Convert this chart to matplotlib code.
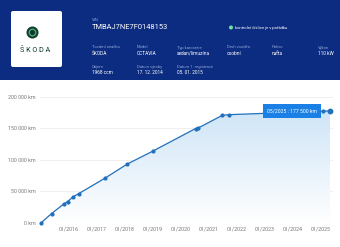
import numpy as np
import pandas as pd
import matplotlib
matplotlib.use("Agg")
import matplotlib.pyplot as plt
import matplotlib.dates as mdates
from matplotlib.patches import Rectangle, FancyBboxPatch, Circle, Polygon

plt.rcParams['font.family'] = ['Roboto', 'DejaVu Sans']

# mileage history
dates = ["2015-01-05", "2015-05-20", "2015-10-30", "2015-12-15", "2016-03-01",
         "2016-05-08", "2017-04-15", "2018-02-01", "2019-01-01", "2020-07-15",
         "2020-08-20", "2021-07-01", "2021-09-25", "2025-02-05", "2025-05-07"]
km = [0, 14500, 30000, 33500, 41500, 46000, 70500, 93000, 113500, 149500,
      150500, 170500, 171500, 177000, 177500]
yticks = [0, 50000, 100000, 150000, 200000]
ytick_labels = ["0 km", "50 000 km", "100 000 km", "150 000 km", "200 000 km"]
xtick_years = list(range(2016, 2026))
tooltip = "05/2025 : 177 500 km"

# header fields: (label, value)
vin_label, vin = "VIN", "TMBAJ7NE7F0148153"
check_text = "kontrolní číslice je v pořádku"
fields_row1 = [("Tovární značka", "ŠKODA"), ("Model", "OCTAVIA"),
               ("Typ karoserie", "sedan/limuzína"), ("Druh vozidla", "osobní"),
               ("Palivo", "nafta"), ("Výkon", "110 kW")]
fields_row2 = [("Objem", "1968 ccm"), ("Datum výroby", "17. 12. 2014"),
               ("Datum 1. registrace", "05. 01. 2015")]

navy = "#0b2c80"
lab_col = "#8ea3d6"
line_col = "#2170bd"

fig = plt.figure(figsize=(3.4, 2.47), dpi=100)
fig.patch.set_facecolor("white")

# background / header drawn in pixel coords
bg = fig.add_axes([0, 0, 1, 1])
bg.set_xlim(0, 340)
bg.set_ylim(247, 0)
bg.axis("off")
bg.add_patch(Rectangle((0, 0), 340, 80, color=navy, lw=0))
bg.add_patch(FancyBboxPatch((11, 11), 51, 56, boxstyle="round,pad=0,rounding_size=2",
                            fc="white", ec="none"))
bg.add_patch(Circle((32.5, 32.5), 6.0, fc="#0e3a2f", ec="none"))
bg.add_patch(Circle((32.5, 32.5), 4.0, fc="#4fa86a", ec="none"))
bg.add_patch(Circle((32.5, 32.5), 2.6, fc="#0e3a2f", ec="none"))
bg.text(35.5, 50, "Š K O D A", ha="center", va="center", fontsize=5.2, color="#0e3a2f")

bg.text(92, 20, vin_label, fontsize=3.0, color=lab_col, va="center")
bg.text(92, 27.5, vin, fontsize=5.4, color="white", va="center")
bg.add_patch(Circle((231, 27.5), 2.0, fc="#6fe3a0", ec="none"))
bg.text(235, 27.5, check_text, fontsize=3.0, color="white", va="center")

xs1 = [92, 137, 177, 227, 272, 318]
for x, (lab, val) in zip(xs1, fields_row1):
    bg.text(x, 47.5, lab, fontsize=3.0, color=lab_col, va="center")
    bg.text(x, 53, val, fontsize=3.4, color="white", va="center")
xs2 = [92, 137, 177]
for x, (lab, val) in zip(xs2, fields_row2):
    bg.text(x, 66.5, lab, fontsize=3.0, color=lab_col, va="center")
    bg.text(x, 72, val, fontsize=3.4, color="white", va="center")

# chart
W, H = 340, 247
ax = fig.add_axes([40 / W, (H - 222.7) / H, (333 - 40) / W, 126 / H])
ax.patch.set_alpha(0)
t = pd.to_datetime(dates)
tn = mdates.date2num(t)
ax.set_xlim(mdates.date2num(pd.Timestamp("2014-12-20")), mdates.date2num(pd.Timestamp("2025-06-15")))
ax.set_ylim(0, 200000)

# gradient fill under line
verts = list(zip(tn, km)) + [(tn[-1], 0), (tn[0], 0)]
poly = Polygon(verts, closed=True, fc="none", ec="none")
ax.add_patch(poly)
grad = np.linspace(1, 0, 256).reshape(-1, 1)
cmap = matplotlib.colors.LinearSegmentedColormap.from_list("g", ["#ffffff", "#cfe5f7"])
im = ax.imshow(grad, cmap=cmap, aspect="auto", extent=[tn[0], tn[-1], 0, max(km)],
               origin="upper", zorder=1)
im.set_clip_path(poly)

ax.plot(tn, km, color=line_col, lw=0.9, zorder=3)
ax.plot(tn[:-1], km[:-1], "o", color=line_col, ms=2.0, zorder=4, clip_on=False)
ax.plot(tn[-1], km[-1], "o", color=line_col, ms=3.2, zorder=4, clip_on=False)

ax.annotate(tooltip, xy=(tn[-1], km[-1]), xytext=(-38, 0), textcoords="offset pixels",
            ha="center", va="center", fontsize=3.7, color="white", zorder=5,
            bbox=dict(boxstyle="square,pad=0.85", fc="#1a80e5", ec="none"))

ax.set_yticks(yticks)
ax.set_yticklabels(ytick_labels)
ax.set_xticks([mdates.date2num(pd.Timestamp(f"{y}-01-01")) for y in xtick_years])
ax.set_xticklabels([f"01/{y}" for y in xtick_years])
ax.tick_params(length=0, labelsize=3.9, colors="#7a7a7a", pad=3)
ax.grid(axis="y", color="#ececec", lw=0.6)
ax.set_axisbelow(True)
for s in ax.spines.values():
    s.set_visible(False)

fig.savefig("out.png", dpi=100)
